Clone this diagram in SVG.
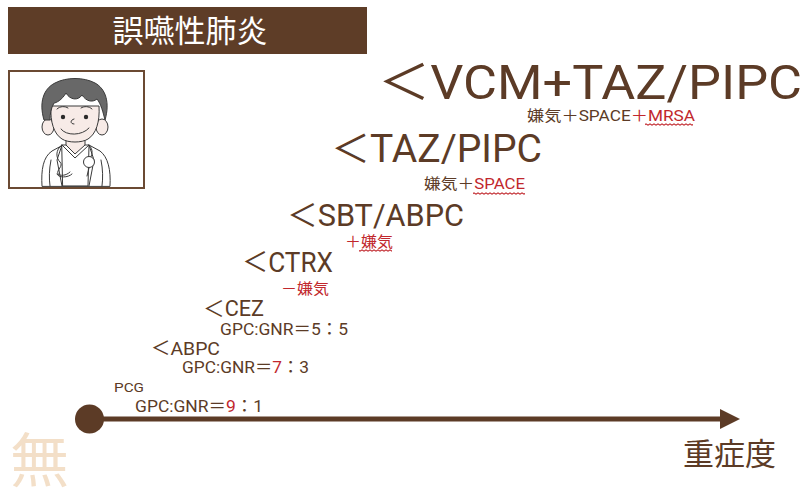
<svg xmlns="http://www.w3.org/2000/svg" width="804" height="491" viewBox="0 0 804 491">
  <style>
    .t { font-family: Roboto, "Noto Sans CJK JP", sans-serif; fill: #5c3b26; }
    .j { font-family: "Noto Sans CJK JP", sans-serif; }
    .r { fill: #c1272d; }
    .ln { fill: none; stroke: #3a3a3a; stroke-width: 1; stroke-linecap: round; stroke-linejoin: round; }
    .skin { fill: #f7ebe7; stroke: #3a3a3a; stroke-width: 1; stroke-linejoin: round; }
  </style>
  <defs>
    <pattern id="wave" patternUnits="userSpaceOnUse" width="4" height="3">
      <path d="M0 2.2 L2 0.8 L4 2.2" fill="none" stroke="#c1272d" stroke-width="1.1"/>
    </pattern>
    <marker id="head" viewBox="0 0 20 20" refX="2" refY="10" markerWidth="20" markerHeight="20" markerUnits="userSpaceOnUse" orient="auto">
      <path d="M0 0 L20 10 L0 20 Z" fill="#5c3b26"/>
    </marker>
  </defs>

  <!-- title bar -->
  <g id="title">
    <rect x="8" y="7" width="359" height="47" fill="#5e3d27"/>
    <text class="j" x="190" y="42" font-size="31" fill="#ffffff" text-anchor="middle">誤嚥性肺炎</text>
  </g>

  <!-- doctor portrait -->
  <g id="doctor">
    <rect x="9" y="71" width="135" height="117" fill="#ffffff" stroke="#6b4a33" stroke-width="2"/>
    <!-- white coat -->
    <path class="ln" d="M42 186 C41 170 43 157 52 151 L63 145 L89 145 L100 151 C108 157 111 170 110 186 Z" fill="#ffffff"/>
    <path class="ln" d="M51 160 C49 170 49 178 50 186"/>
    <path class="ln" d="M101 160 C103 170 103 178 102 186"/>
    <!-- shirt -->
    <path class="ln" d="M62 145 L75 158 L89 145 L88 186 L63 186 Z" fill="#a8cadf"/>
    <path class="ln" d="M62 145 L57 160 L62 186"/>
    <path class="ln" d="M89 145 L94 160 L89 186"/>
    <!-- stethoscope -->
    <path class="ln" d="M62 145 C55 150 56 158 60 162 C64 166 56 170 58 174 C60 176 66 176 70 172"/>
    <path class="ln" d="M57 174 C58 178 68 178 72 174"/>
    <path class="ln" d="M89 145 C94 150 92 156 90 158"/>
    <circle cx="89" cy="162" r="5.5" fill="#ffffff" stroke="#3a3a3a" stroke-width="1"/>
    <path class="ln" d="M89 168 L87 176"/>
    <!-- neck -->
    <path class="skin" d="M66 137 L66 145 L75 154 L85 145 L85 137 Z"/>
    <!-- ears -->
    <ellipse class="skin" cx="48" cy="127" rx="6" ry="8"/>
    <ellipse class="skin" cx="102" cy="127" rx="6" ry="8"/>
    <!-- face -->
    <path class="skin" d="M51 106 C50 122 54 134 62 139 C68 143 82 143 88 139 C96 134 100 122 99 106 Z"/>
    <!-- hair -->
    <path d="M44 120 C39 103 43 89 55 83 C66 77 84 77 95 83 C106 89 110 103 105 120 C103 112 101 104 97 99 C92 103 86 101 82 95 C78 101 70 100 66 93 C62 100 56 103 54 103 C51 108 50 114 50 120 Z" fill="#686868" stroke="#3a3a3a" stroke-width="1" stroke-linejoin="round"/>
    <!-- brows -->
    <path class="ln" d="M57 109 C60 106 65 106 68 108"/>
    <path class="ln" d="M81 108 C84 106 89 106 92 109"/>
    <!-- eyes -->
    <circle cx="63" cy="117" r="2.2" fill="#2a2a2a"/>
    <circle cx="86" cy="117" r="2.2" fill="#2a2a2a"/>
    <!-- nose -->
    <path class="ln" d="M74 119 C70 120 70 124 74 124"/>
    <!-- mouth -->
    <path class="ln" d="M61 129 C66 136 82 136 89 128"/>
  </g>

  <!-- severity axis -->
  <g id="connectors">
    <line x1="89" y1="419" x2="722" y2="419" stroke="#5c3b26" stroke-width="5" marker-end="url(#head)"/>
    <circle cx="89.5" cy="419" r="14.5" fill="#5c3b26"/>
  </g>

  <g id="label-none">
    <text class="j" x="10" y="482" font-size="59" fill="#f3dfc8">無</text>
  </g>
  <g id="label-severity">
    <text class="t j" x="683" y="465" font-size="31" textLength="93" lengthAdjust="spacingAndGlyphs">重症度</text>
  </g>

  <!-- antibiotic tiers -->
  <g id="tier-vcm">
    <text class="t" x="378" y="99" font-size="48" textLength="424" lengthAdjust="spacingAndGlyphs">＜VCM+TAZ/PIPC</text>
    <text class="t" x="527" y="121" font-size="15" textLength="168" lengthAdjust="spacingAndGlyphs">嫌気＋SPACE<tspan class="r">＋MRSA</tspan></text>
    <rect x="645" y="123" width="48" height="3" fill="url(#wave)"/>
  </g>

  <g id="tier-taz">
    <text class="t" x="331" y="162" font-size="38" textLength="211" lengthAdjust="spacingAndGlyphs">＜TAZ/PIPC</text>
    <text class="t" x="424" y="189" font-size="14.5" textLength="101" lengthAdjust="spacingAndGlyphs">嫌気＋<tspan class="r">SPACE</tspan></text>
    <rect x="473" y="192" width="52" height="3" fill="url(#wave)"/>
  </g>

  <g id="tier-sbt">
    <text class="t" x="287" y="226" font-size="31" textLength="177" lengthAdjust="spacingAndGlyphs">＜SBT/ABPC</text>
    <text class="t r" x="345" y="247" font-size="15" textLength="48" lengthAdjust="spacingAndGlyphs">＋嫌気</text>
    <rect x="359" y="249" width="33" height="3" fill="url(#wave)"/>
  </g>

  <g id="tier-ctrx">
    <text class="t" x="242" y="272" font-size="27" textLength="91" lengthAdjust="spacingAndGlyphs">＜CTRX</text>
    <text class="t r" x="281" y="294" font-size="15" textLength="48" lengthAdjust="spacingAndGlyphs">－嫌気</text>
  </g>

  <g id="tier-cez">
    <text class="t" x="203" y="316" font-size="22" textLength="61" lengthAdjust="spacingAndGlyphs">＜CEZ</text>
    <text class="t" x="220" y="335" font-size="17" textLength="128" lengthAdjust="spacingAndGlyphs">GPC:GNR＝5：5</text>
  </g>

  <g id="tier-abpc">
    <text class="t" x="151" y="355" font-size="19" textLength="69" lengthAdjust="spacingAndGlyphs">＜ABPC</text>
    <text class="t" x="182" y="373" font-size="17" textLength="127" lengthAdjust="spacingAndGlyphs">GPC:GNR＝<tspan class="r">7</tspan>：3</text>
  </g>

  <g id="tier-pcg">
    <text class="t" x="114" y="392" font-size="13.5" textLength="30" lengthAdjust="spacingAndGlyphs">PCG</text>
    <text class="t" x="135" y="412" font-size="17" textLength="128" lengthAdjust="spacingAndGlyphs">GPC:GNR＝<tspan class="r">9</tspan>：1</text>
  </g>
</svg>
